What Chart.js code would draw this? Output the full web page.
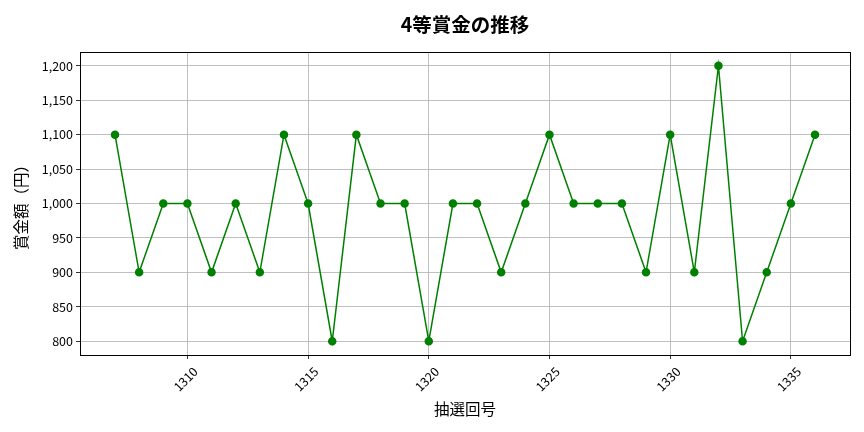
<!DOCTYPE html>
<html><head><meta charset="utf-8">
<script src="https://cdn.jsdelivr.net/npm/chart.js@4/dist/chart.umd.min.js"></script>
<style>html,body{margin:0;padding:0;background:#fff}#wrap{width:864px;height:432px}</style>
</head><body>
<div id="wrap"><canvas id="c"></canvas></div>
<script>
const draws = [1307,1308,1309,1310,1311,1312,1313,1314,1315,1316,1317,1318,1319,1320,1321,1322,1323,1324,1325,1326,1327,1328,1329,1330,1331,1332,1333,1334,1335,1336];
const prizes = [1100,900,1000,1000,900,1000,900,1100,1000,800,1100,1000,1000,800,1000,1000,900,1000,1100,1000,1000,1000,900,1100,900,1200,800,900,1000,1100];
const xTicks = [1310,1315,1320,1325,1330,1335];
const yTicks = [800,850,900,950,1000,1050,1100,1150,1200];
const titleText = '4等賞金の推移';
const xTitle = '抽選回号';
const yTitle = '賞金額（円）';
const FONT = "'Noto Sans CJK JP','Noto Sans',sans-serif";

const framePlugin = {
  id: 'frame',
  afterDraw(chart) {
    const {ctx, chartArea: a} = chart;
    ctx.save();
    ctx.strokeStyle = '#000';
    ctx.lineWidth = 1;
    ctx.strokeRect(Math.round(a.left)+0.5, Math.round(a.top)+0.5, Math.round(a.right-a.left), Math.round(a.bottom-a.top));
    ctx.fillStyle = '#000';
    ctx.font = "bold 19.5px " + FONT;
    ctx.textAlign = 'center';
    ctx.textBaseline = 'middle';
    ctx.fillText(titleText, (a.left + a.right) / 2, 25);
    ctx.restore();
  }
};

new Chart(document.getElementById('c'), {
  type: 'line',
  data: {
    datasets: [{
      data: draws.map((d, i) => ({x: d, y: prizes[i]})),
      borderColor: '#008000',
      backgroundColor: '#008000',
      borderWidth: 1.5,
      pointRadius: 3.5,
      pointHoverRadius: 3.5,
      tension: 0,
      fill: false
    }]
  },
  options: {
    responsive: true,
    maintainAspectRatio: false,
    animation: false,
    events: [],
    layout: {padding: {left: 0, right: 14, top: 52, bottom: 0}},
    plugins: {legend: {display: false}, tooltip: {enabled: false}, title: {display: false}},
    scales: {
      x: {
        type: 'linear',
        min: 1305.55,
        max: 1337.45,
        afterBuildTicks: s => { s.ticks = xTicks.map(v => ({value: v})); },
        afterFit: s => { s.height = 77; },
        grid: {color: '#b0b0b0', lineWidth: 0.8, drawTicks: true, tickLength: 4, tickColor: '#000'},
        border: {display: false},
        ticks: {
          minRotation: 45, maxRotation: 45, autoSkip: false,
          color: '#000', font: {family: FONT, size: 12.5},
          callback: v => String(v),
          labelOffset: 8, padding: 5
        },
        title: {display: true, text: xTitle, color: '#000', font: {family: FONT, size: 15.5}, padding: {top: 0, bottom: 14}}
      },
      y: {
        min: 780,
        max: 1220,
        afterBuildTicks: s => { s.ticks = yTicks.map(v => ({value: v})); },
        afterFit: s => { s.width = 80; },
        grid: {color: '#b0b0b0', lineWidth: 0.8, drawTicks: true, tickLength: 4, tickColor: '#000'},
        border: {display: false},
        ticks: {
          color: '#000', font: {family: FONT, size: 12.5}, padding: 3,
          callback: v => v.toLocaleString('en-US')
        },
        title: {display: true, text: yTitle, color: '#000', font: {family: FONT, size: 15.5}, padding: {top: 12, bottom: 0}}
      }
    }
  },
  plugins: [framePlugin]
});
</script>
</body></html>
